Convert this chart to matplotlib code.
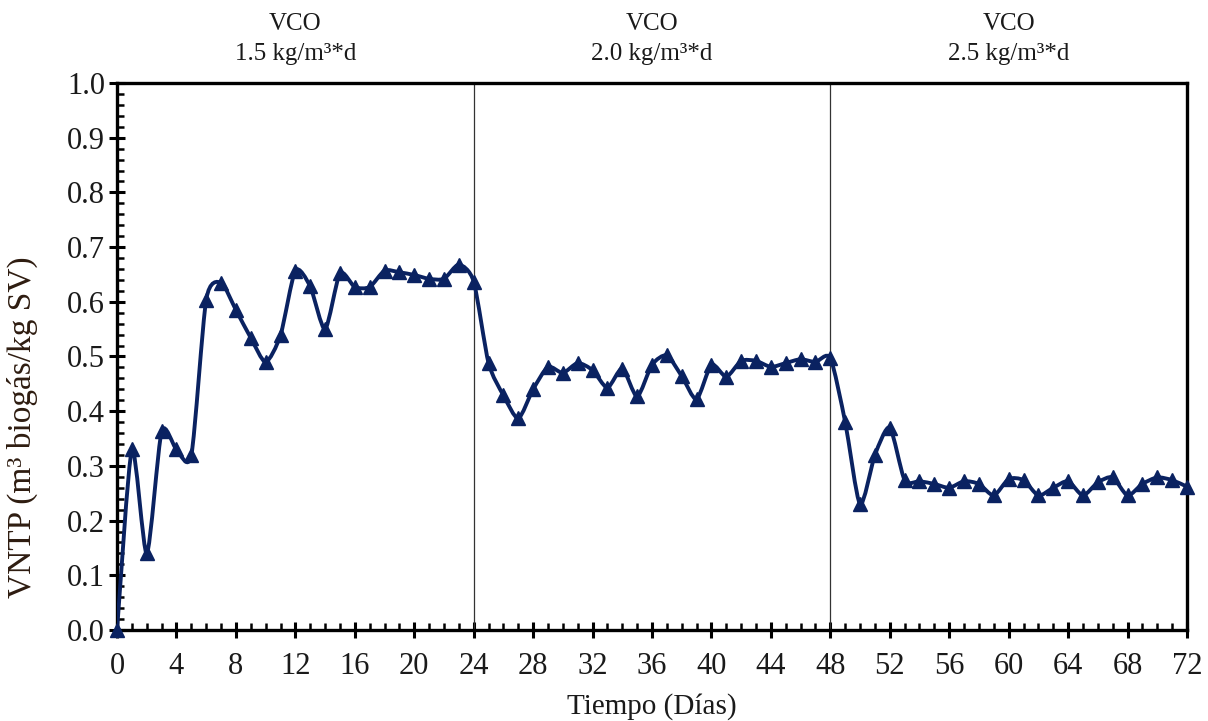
import numpy as np
import matplotlib.pyplot as plt
from matplotlib.path import Path
from matplotlib.patches import PathPatch
from matplotlib.ticker import MultipleLocator

plt.rcParams['font.family'] = ['Liberation Serif', 'DejaVu Serif']

# Specific biogas yield per day
dias = list(range(0, 73))
vntp = [0.00, 0.33, 0.14, 0.363, 0.33, 0.32, 0.604, 0.635, 0.585, 0.534,
        0.49, 0.539, 0.657, 0.628, 0.55, 0.652, 0.627, 0.627, 0.657, 0.654,
        0.649, 0.642, 0.642, 0.668, 0.637, 0.488, 0.429, 0.387, 0.44, 0.481,
        0.47, 0.488, 0.475, 0.443, 0.478, 0.427, 0.485, 0.502, 0.464, 0.422,
        0.485, 0.463, 0.492, 0.492, 0.481, 0.488, 0.495, 0.49, 0.497, 0.38,
        0.23, 0.32, 0.37, 0.274, 0.272, 0.267, 0.26, 0.272, 0.267, 0.246,
        0.276, 0.274, 0.246, 0.26, 0.272, 0.246, 0.27, 0.279, 0.246, 0.267,
        0.279, 0.274, 0.262]

# organic loading phases
cambios = [24, 48]
fases_x = [12, 36, 60]
fases_txt = ['VCO\n1.5 kg/m³*d', 'VCO\n2.0 kg/m³*d', 'VCO\n2.5 kg/m³*d']

azul = '#0a2261'
texto = '#1a1a1a'


def smooth_path(x, y, k=0.12):
    # cubic bezier segments through every point
    x = np.asarray(x, float)
    y = np.asarray(y, float)
    n = len(x)
    verts = [(x[0], y[0])]
    codes = [Path.MOVETO]
    for i in range(n - 1):
        i0 = max(i - 1, 0)
        i3 = min(i + 2, n - 1)
        c1 = (x[i] + (x[i + 1] - x[i0]) * k, y[i] + (y[i + 1] - y[i0]) * k)
        c2 = (x[i + 1] - (x[i3] - x[i]) * k, y[i + 1] - (y[i3] - y[i]) * k)
        verts += [c1, c2, (x[i + 1], y[i + 1])]
        codes += [Path.CURVE4] * 3
    return Path(verts, codes)


fig = plt.figure(figsize=(12.08, 7.21), dpi=100)
ax = fig.add_axes([0.0969, 0.1262, 0.8857, 0.7587])

ax.add_patch(PathPatch(smooth_path(dias, vntp), facecolor='none',
                       edgecolor=azul, lw=2.8, zorder=3))
ax.plot(dias, vntp, linestyle='none', marker='^', markersize=10,
        color=azul, zorder=4, clip_on=False)

for c in cambios:
    ax.axvline(c, color='#333333', lw=0.9, zorder=2)

for xp, t in zip(fases_x, fases_txt):
    ax.text(xp, 1.032, t, transform=ax.get_xaxis_transform(), ha='center',
            va='bottom', fontsize=18, color=texto, linespacing=1.5)

ax.set_xlim(0, 72)
ax.set_ylim(0.0, 1.0)
ax.xaxis.set_major_locator(MultipleLocator(4))
ax.xaxis.set_minor_locator(MultipleLocator(1))
ax.yaxis.set_major_locator(MultipleLocator(0.1))
ax.yaxis.set_minor_locator(MultipleLocator(0.02))
ax.yaxis.set_major_formatter(plt.FormatStrFormatter('%.1f'))

ax.tick_params(which='major', direction='inout', length=11, width=2.2,
               labelsize=22, colors='black', labelcolor=texto, pad=3)
ax.tick_params(axis='x', which='major', pad=10)
ax.tick_params(which='minor', direction='in', length=5, width=1.8)
for s in ax.spines.values():
    s.set_linewidth(2.4)

ax.set_xlabel('Tiempo (Días)', fontsize=21, color=texto, labelpad=9)
ax.set_ylabel('VNTP (m³ biogás/kg SV)', fontsize=24, color='#2e1c10')
ax.yaxis.set_label_coords(-0.074, 0.37)

fig.savefig('out.png', dpi=100)
